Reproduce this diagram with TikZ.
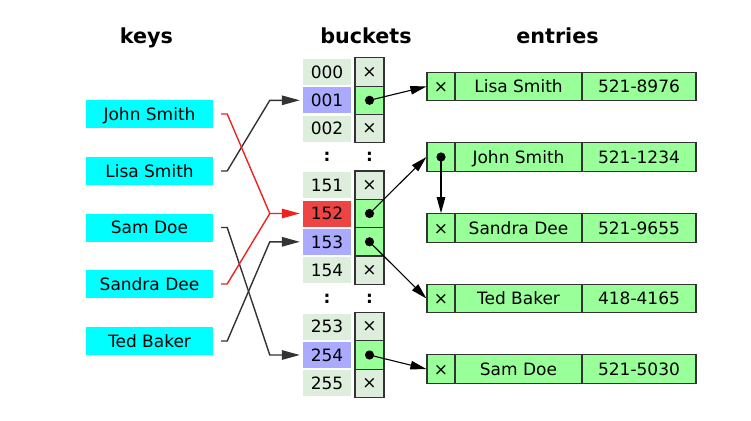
\documentclass[tikz,border=0pt]{standalone}
\usepackage{fontspec}
\setmainfont{DejaVu Sans}
\usetikzlibrary{arrows.meta}
\definecolor{keycyan}{HTML}{00FFFF}
\definecolor{cellgray}{HTML}{DDEEDD}
\definecolor{cellblue}{HTML}{AAAAFF}
\definecolor{cellred}{HTML}{EE4444}
\definecolor{entgreen}{HTML}{99FF99}
\definecolor{linegray}{HTML}{333333}
\definecolor{linered}{HTML}{EE2222}
\tikzset{
  celltext/.style={text height=16pt, text depth=3.6pt},
  keybox/.style={celltext, fill=keycyan, minimum width=127pt, minimum height=28pt, inner sep=0pt},
  labcell/.style={celltext, minimum width=48pt, minimum height=26pt, inner sep=0pt},
  ptrcell/.style={draw=linegray, line width=1.2pt, minimum width=29pt, minimum height=28.3pt, inner sep=0pt},
  emptyptr/.style={ptrcell, fill=cellgray},
  fullptr/.style={ptrcell, fill=entgreen},
  entcell/.style={celltext, draw=linegray, line width=1.2pt, fill=entgreen, minimum height=28.5pt, inner sep=0pt},
  header/.style={font=\fontsize{20.7}{24}\selectfont\bfseries, anchor=base},
  keyline/.style={draw=linegray, line width=1.4pt, -{Triangle[length=18pt,width=9.5pt]}, shorten >=3pt},
  redline/.style={draw=linered, line width=1.4pt, -{Triangle[length=18pt,width=9.5pt]}, shorten >=3pt},
  redplain/.style={draw=linered, line width=1.4pt},
  entline/.style={draw=black, line width=1.1pt, -{Triangle[length=16pt,width=8.5pt]}},
  dotmark/.style={fill=black},
  vdots/.style={font=\fontsize{17}{20}\selectfont\bfseries}
}
\begin{document}
\begin{tikzpicture}[x=1pt,y=-1pt, font=\fontsize{17}{20}\selectfont]
\useasboundingbox (0,0) rectangle (751,420);

% headers
\node[header] (hkeys) at (146.5,43.5) {keys};
\node[header] (hbuckets) at (366,43.5) {buckets};
\node[header] (hentries) at (557.5,43.5) {entries};

% keys
\node[keybox] (k1) at (149.5,114) {John Smith};
\node[keybox] (k2) at (149.5,171) {Lisa Smith};
\node[keybox] (k3) at (149.5,227.5) {Sam Doe};
\node[keybox] (k4) at (149.5,284) {Sandra Dee};
\node[keybox] (k5) at (149.5,341) {Ted Baker};

% bucket labels
\node[labcell, fill=cellgray] (b000) at (327,72) {000};
\node[labcell, fill=cellblue] (b001) at (327,100.3) {001};
\node[labcell, fill=cellgray] (b002) at (327,128.6) {002};
\node[vdots] (d1a) at (327,156.9) {:};
\node[labcell, fill=cellgray] (b151) at (327,185.2) {151};
\node[labcell, fill=cellred] (b152) at (327,213.5) {152};
\node[labcell, fill=cellblue] (b153) at (327,241.8) {153};
\node[labcell, fill=cellgray] (b154) at (327,270.1) {154};
\node[vdots] (d2a) at (327,298.4) {:};
\node[labcell, fill=cellgray] (b253) at (327,326.7) {253};
\node[labcell, fill=cellblue] (b254) at (327,355) {254};
\node[labcell, fill=cellgray] (b255) at (327,383.3) {255};

% bucket pointers
\node[emptyptr] (p000) at (369.5,72) {×};
\node[fullptr] (p001) at (369.5,100.3) {};
\node[emptyptr] (p002) at (369.5,128.6) {×};
\node[vdots] (d1b) at (369.5,156.9) {:};
\node[emptyptr] (p151) at (369.5,185.2) {×};
\node[fullptr] (p152) at (369.5,213.5) {};
\node[fullptr] (p153) at (369.5,241.8) {};
\node[emptyptr] (p154) at (369.5,270.1) {×};
\node[vdots] (d2b) at (369.5,298.4) {:};
\node[emptyptr] (p253) at (369.5,326.7) {×};
\node[fullptr] (p254) at (369.5,355) {};
\node[emptyptr] (p255) at (369.5,383.3) {×};

% entries
\node[entcell, minimum width=28pt] (e1p) at (441,86.5) {×};
\node[entcell, minimum width=127pt] (e1n) at (518.5,86.5) {Lisa Smith};
\node[entcell, minimum width=114pt] (e1t) at (639,86.5) {521-8976};

\node[entcell, minimum width=28pt] (e2p) at (441,157) {};
\node[entcell, minimum width=127pt] (e2n) at (518.5,157) {John Smith};
\node[entcell, minimum width=114pt] (e2t) at (639,157) {521-1234};

\node[entcell, minimum width=28pt] (e3p) at (441,228) {×};
\node[entcell, minimum width=127pt] (e3n) at (518.5,228) {Sandra Dee};
\node[entcell, minimum width=114pt] (e3t) at (639,228) {521-9655};

\node[entcell, minimum width=28pt] (e4p) at (441,298.5) {×};
\node[entcell, minimum width=127pt] (e4n) at (518.5,298.5) {Ted Baker};
\node[entcell, minimum width=114pt] (e4t) at (639,298.5) {418-4165};

\node[entcell, minimum width=28pt] (e5p) at (441,369) {×};
\node[entcell, minimum width=127pt] (e5n) at (518.5,369) {Sam Doe};
\node[entcell, minimum width=114pt] (e5t) at (639,369) {521-5030};

% key connectors
\draw[keyline] ([xshift=8pt]k2.east) -- ([xshift=14pt]k2.east) -- ([xshift=-33pt]b001.west) -- (b001.west);
\draw[keyline] ([xshift=8pt]k3.east) -- ([xshift=14pt]k3.east) -- ([xshift=-33pt]b254.west) -- (b254.west);
\draw[keyline] ([xshift=8pt]k5.east) -- ([xshift=14pt]k5.east) -- ([xshift=-33pt]b153.west) -- (b153.west);
\draw[redplain] ([xshift=8pt]k4.east) -- ([xshift=14pt]k4.east) -- ([xshift=-33pt]b152.west);
\draw[redline] ([xshift=8pt]k1.east) -- ([xshift=14pt]k1.east) -- ([xshift=-33pt]b152.west) -- (b152.west);

% entry pointers
\draw[entline] (p001.center) -- (e1p.west);
\draw[entline] (p152.center) -- (e2p.west);
\draw[entline] (p153.center) -- (e4p.west);
\draw[entline] (p254.center) -- (e5p.west);
\draw[entline] (e2p.center) -- (e3p.north);

% dots
\fill[dotmark] (p001.center) circle (4.6pt);
\fill[dotmark] (p152.center) circle (4.6pt);
\fill[dotmark] (p153.center) circle (4.6pt);
\fill[dotmark] (p254.center) circle (4.6pt);
\fill[dotmark] (e2p.center) circle (4.6pt);
\end{tikzpicture}
\end{document}
